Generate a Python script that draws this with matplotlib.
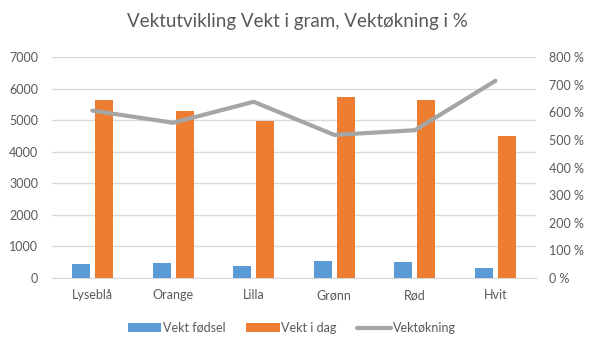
import matplotlib
matplotlib.use("Agg")
import matplotlib.pyplot as plt
import numpy as np

categories = ["Lyseblå", "Orange", "Lilla", "Grønn", "Rød", "Hvit"]
vekt_fodsel = [443, 475, 390, 538, 506, 316]
vekt_i_dag = [5642, 5295, 4979, 5737, 5642, 4505]
vektokning = [606, 562, 638, 518, 535, 714]
left_ticks = [0, 1000, 2000, 3000, 4000, 5000, 6000, 7000]
right_ticks = [0, 100, 200, 300, 400, 500, 600, 700, 800]

BLUE = "#5B9BD5"
ORANGE = "#ED7D31"
GRAY = "#A5A5A5"
TEXT = "#595959"
GRID = "#D9D9D9"

plt.rcParams["font.family"] = ["Lato", "DejaVu Sans"]

fig = plt.figure(figsize=(5.95, 3.5), dpi=100)
ax = fig.add_axes([0.0877, 0.2057, 0.8128, 0.6314])
ax2 = ax.twinx()

x = np.arange(len(categories))
w = 0.223
ax.bar(x - 0.143, vekt_fodsel, width=w, color=BLUE, label="Vekt fødsel", zorder=3)
ax.bar(x + 0.143, vekt_i_dag, width=w, color=ORANGE, label="Vekt i dag", zorder=3)
ln, = ax2.plot(x, vektokning, color=GRAY, lw=3, solid_capstyle="round",
               label="Vektøkning", zorder=4)

ax.set_xlim(-0.5, len(categories) - 0.5)
ax.set_ylim(0, 7000)
ax2.set_ylim(0, 800)
ax.set_yticks(left_ticks)
ax.set_yticklabels([str(v) for v in left_ticks])
ax2.set_yticks(right_ticks)
ax2.set_yticklabels([f"{v} %" for v in right_ticks])
ax.set_xticks(x)
ax.set_xticklabels(categories)

ax.yaxis.grid(True, color=GRID, lw=1, zorder=0)
ax.set_axisbelow(True)
for a in (ax, ax2):
    for s in a.spines.values():
        s.set_visible(False)
    a.tick_params(length=0, labelsize=9, labelcolor=TEXT)
ax.spines["bottom"].set_visible(True)
ax.spines["bottom"].set_color(GRID)
ax.tick_params(axis="y", pad=10)
ax.tick_params(axis="x", pad=8)
ax2.tick_params(axis="y", pad=9.5)

fig.text(0.5, 0.94, "Vektutvikling Vekt i gram, Vektøkning i %", ha="center",
         va="center", fontsize=13.5, color=TEXT)

handles = [ax.containers[0], ax.containers[1], ln]
leg = fig.legend(handles, ["Vekt fødsel", "Vekt i dag", "Vektøkning"],
                 loc="center", bbox_to_anchor=(0.49, 0.063), ncol=3,
                 frameon=False, fontsize=9, handlelength=2.7, handleheight=0.7,
                 handletextpad=0.15, columnspacing=1.6, labelcolor=TEXT)

fig.savefig("out.png", dpi=100)
